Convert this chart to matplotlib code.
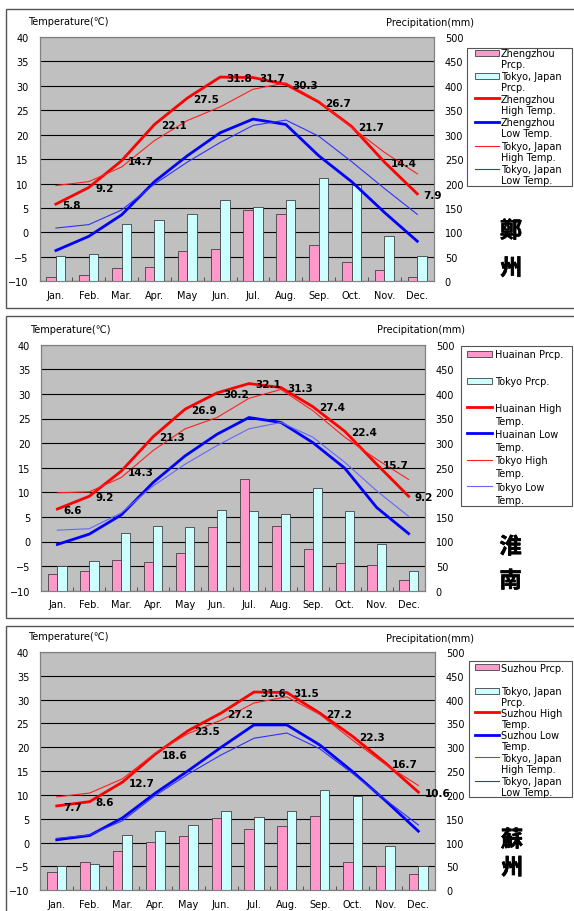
import matplotlib
matplotlib.use('Agg')
import matplotlib.pyplot as plt
import matplotlib.patheffects as pe
from matplotlib.patches import Rectangle
from matplotlib.lines import Line2D
from matplotlib.transforms import Affine2D
import numpy as np

W, H = 574, 912

months = ['Jan.', 'Feb.', 'Mar.', 'Apr.', 'May', 'Jun.',
          'Jul.', 'Aug.', 'Sep.', 'Oct.', 'Nov.', 'Dec.']

# Zhengzhou (panel 1)
zz_high = [5.8, 9.2, 14.7, 22.1, 27.5, 31.8, 31.7, 30.3, 26.7, 21.7, 14.4, 7.9]
zz_low = [-3.7, -0.8, 3.6, 10.4, 15.7, 20.4, 23.2, 22.1, 15.7, 10.4, 4.1, -1.8]
zz_prcp = [9.5, 12, 27, 30, 62, 67, 146, 138, 74, 39, 22.5, 9.5]

# Huainan (panel 2)
hn_high = [6.6, 9.2, 14.3, 21.3, 26.9, 30.2, 32.1, 31.3, 27.4, 22.4, 15.7, 9.2]
hn_low = [-0.6, 1.5, 5.4, 12.0, 17.4, 21.8, 25.2, 24.2, 20.1, 14.9, 6.9, 1.6]
hn_prcp = [33, 41, 62, 58, 77, 129, 228, 132, 85, 56, 53, 22]

# Suzhou (panel 3)
sz_high = [7.7, 8.6, 12.7, 18.6, 23.5, 27.2, 31.6, 31.5, 27.2, 22.3, 16.7, 10.6]
sz_low = [0.6, 1.5, 5.2, 10.4, 15.1, 20.0, 24.7, 24.7, 20.5, 14.9, 8.8, 2.4]
sz_prcp = [38, 59, 82, 102, 113, 152, 128, 134, 155, 60, 52, 34]

# Tokyo, Japan (panels 1 and 3)
tk_high = [9.6, 10.4, 13.4, 18.8, 22.9, 25.7, 29.3, 30.6, 26.9, 21.5, 16.4, 12.0]
tk_low = [0.9, 1.6, 4.6, 9.9, 14.4, 18.4, 21.9, 23.0, 19.7, 14.5, 9.0, 3.7]
tk_prcp = [51, 55, 116.5, 125, 138, 167, 153, 167, 210.5, 198, 92, 51]

# Tokyo (panel 2)
tk2_high = [9.9, 10.1, 13.0, 18.5, 22.9, 25.2, 29.1, 30.9, 26.6, 21.2, 16.7, 12.6]
tk2_low = [2.3, 2.6, 5.8, 11.3, 15.7, 19.5, 22.9, 24.2, 21.2, 16.1, 10.3, 5.1]
tk2_prcp = [49.5, 61, 116.5, 132, 128.7, 165, 162.6, 155.8, 209, 163, 94, 39.3]

zz_legend = ['Zhengzhou\nPrcp.', 'Tokyo, Japan\nPrcp.', 'Zhengzhou\nHigh Temp.',
             'Zhengzhou\nLow Temp.', 'Tokyo, Japan\nHigh Temp.', 'Tokyo, Japan\nLow Temp.']
hn_legend = ['Huainan Prcp.', 'Tokyo Prcp.', 'Huainan High\nTemp.',
             'Huainan Low\nTemp.', 'Tokyo High\nTemp.', 'Tokyo Low\nTemp.']
sz_legend = ['Suzhou Prcp.', 'Tokyo, Japan\nPrcp.', 'Suzhou High\nTemp.',
             'Suzhou Low\nTemp.', 'Tokyo, Japan\nHigh Temp.', 'Tokyo, Japan\nLow Temp.']

PINK = '#ff99cc'
CYAN = '#ccffff'
FONT = ['DejaVu Sans', 'Noto Sans CJK JP']

fig = plt.figure(figsize=(W / 100, H / 100), dpi=100)
fig.patch.set_facecolor('white')
# pixel coordinates, origin at top-left
px = Affine2D().scale(1 / W, -1 / H).translate(0, 1) + fig.transFigure


def draw_panel(frame, plot, high, low, prcp, t_high, t_low, t_prcp, tlow_color):
	fig.add_artist(Rectangle((frame[0], frame[1]), frame[2] - frame[0], frame[3] - frame[1],
	                         transform=px, fc='white', ec='#555555', lw=1, zorder=-5))
	x0, y0, x1, y1 = plot
	ax = fig.add_axes([x0 / W, 1 - y1 / H, (x1 - x0) / W, (y1 - y0) / H])
	ax2 = ax.twinx()
	ax.set_zorder(ax2.get_zorder() + 1)
	ax.patch.set_visible(False)
	ax2.patch.set_visible(True)
	ax2.patch.set_facecolor('#c0c0c0')

	x = np.arange(12)
	bw = 0.29
	ax2.bar(x - bw / 2, prcp, bw, color=PINK, edgecolor='#404040', lw=0.6, zorder=3)
	ax2.bar(x + bw / 2, t_prcp, bw, color=CYAN, edgecolor='#404040', lw=0.6, zorder=3)
	ax2.set_ylim(0, 500)
	ax2.set_yticks(range(0, 501, 50))
	ax2.yaxis.grid(True, color='black', lw=0.8)
	ax2.set_axisbelow(True)

	ax.plot(x, high, color='#ff0000', lw=2.0)
	ax.plot(x, low, color='#0000ff', lw=2.0)
	ax.plot(x, t_high, color='#ff2020', lw=0.8)
	ax.plot(x, t_low, color=tlow_color, lw=0.8)
	for i, v in enumerate(high):
		ax.annotate(f'{v:.1f}', (i, v), xytext=(4.5, -0.5), textcoords='offset points',
		            ha='left', va='center', fontsize=7.5, fontweight='bold',
		            annotation_clip=False)

	ax.set_xlim(-0.5, 11.5)
	ax.set_ylim(-10, 40)
	ax.set_yticks(range(-10, 41, 5))
	ax.set_xticks(x)
	ax.set_xticklabels(months)
	ax.set_xticks(np.arange(-0.5, 12, 1), minor=True)
	ax.tick_params(axis='x', which='major', length=0, pad=6, labelsize=7)
	ax.tick_params(axis='x', which='minor', length=3, direction='in', color='#404040')
	ax.tick_params(axis='y', length=0, pad=8, labelsize=7)
	ax2.tick_params(axis='y', length=0, pad=8, labelsize=7)
	for a in (ax, ax2):
		for s in a.spines.values():
			s.set_color('#808080')
	return ax


def draw_legend(box, handle_x, text_x, rows, gap, labels, tlow_color):
	x0, y0, x1, y1 = box
	fig.add_artist(Rectangle((x0, y0), x1 - x0, y1 - y0, transform=px,
	                         fill=False, ec='#555555', lw=0.8))
	styles = [('bar', PINK, 0), ('bar', CYAN, 0), ('line', '#ff0000', 2.0),
	          ('line', '#0000ff', 2.0), ('line', '#ff2020', 0.8), ('line', tlow_color, 0.8)]
	for (kind, color, lw), y, label in zip(styles, rows, labels):
		if kind == 'bar':
			fig.add_artist(Rectangle((handle_x[0], y - 3), handle_x[1] - handle_x[0], 6,
			                         transform=px, fc=color, ec='#404040', lw=0.6))
		else:
			fig.add_artist(Line2D(handle_x, [y, y], transform=px, color=color, lw=lw))
		for k, line in enumerate(label.split('\n')):
			fig.text(text_x, y + 3.3 + k * gap, line, transform=px, fontsize=7,
			         va='baseline', ha='left', family=FONT)


def side_text(frame_labels):
	for (xx, yy, s) in frame_labels:
		fig.text(xx, yy, s, transform=px, fontsize=7, va='center', ha='left', family=FONT)


def city_name(chars, xs, ys):
	for ch, xx, yy in zip(chars, xs, ys):
		fig.text(xx, yy, ch, transform=px, fontsize=16, fontweight='bold',
		         family=['Noto Sans CJK TC', 'Noto Sans CJK JP'], ha='center', va='center',
		         path_effects=[pe.withStroke(linewidth=0.5, foreground='black')])


# Panel 1: Zhengzhou
draw_panel((6, 10, 580, 309), (39.5, 38, 433.7, 282.3),
           zz_high, zz_low, zz_prcp, tk_high, tk_low, tk_prcp, '#3030ff')
draw_legend((467, 49, 571.5, 187), (475, 499), 501,
            [54, 76.7, 99.3, 122.7, 146.7, 170], 11, zz_legend, '#3030ff')
side_text([(28, 21.7, 'Temperature(℃)'), (386, 23.3, 'Precipitation(mm)')])
city_name('鄭州', [511, 511], [232, 269.5])

# Panel 2: Huainan
draw_panel((6, 316.7, 580, 619), (41.4, 345.7, 424.6, 591.7),
           hn_high, hn_low, hn_prcp, tk2_high, tk2_low, tk2_prcp, '#6666ff')
draw_legend((460.7, 346.7, 571.5, 506.7), (466.7, 491.7), 495,
            [355, 381.7, 408.3, 434.3, 460.7, 487.3], 13, hn_legend, '#6666ff')
side_text([(30, 330, 'Temperature(℃)'), (377, 330, 'Precipitation(mm)')])
city_name('淮南', [510.6, 510.6], [548, 582])

# Panel 3: Suzhou
draw_panel((6, 626.7, 580, 920), (40.3, 653, 434.8, 891.3),
           sz_high, sz_low, sz_prcp, tk_high, tk_low, tk_prcp, '#3030ff')
draw_legend((469.3, 661.7, 571.5, 798.3), (475, 499.3), 501,
            [668.3, 691.7, 713.3, 736, 758.3, 781.7], 11, sz_legend, '#3030ff')
side_text([(28, 637.3, 'Temperature(℃)'), (386, 639.3, 'Precipitation(mm)')])
city_name('蘇州', [512, 512], [841, 869])

fig.savefig('out.png', dpi=100)
